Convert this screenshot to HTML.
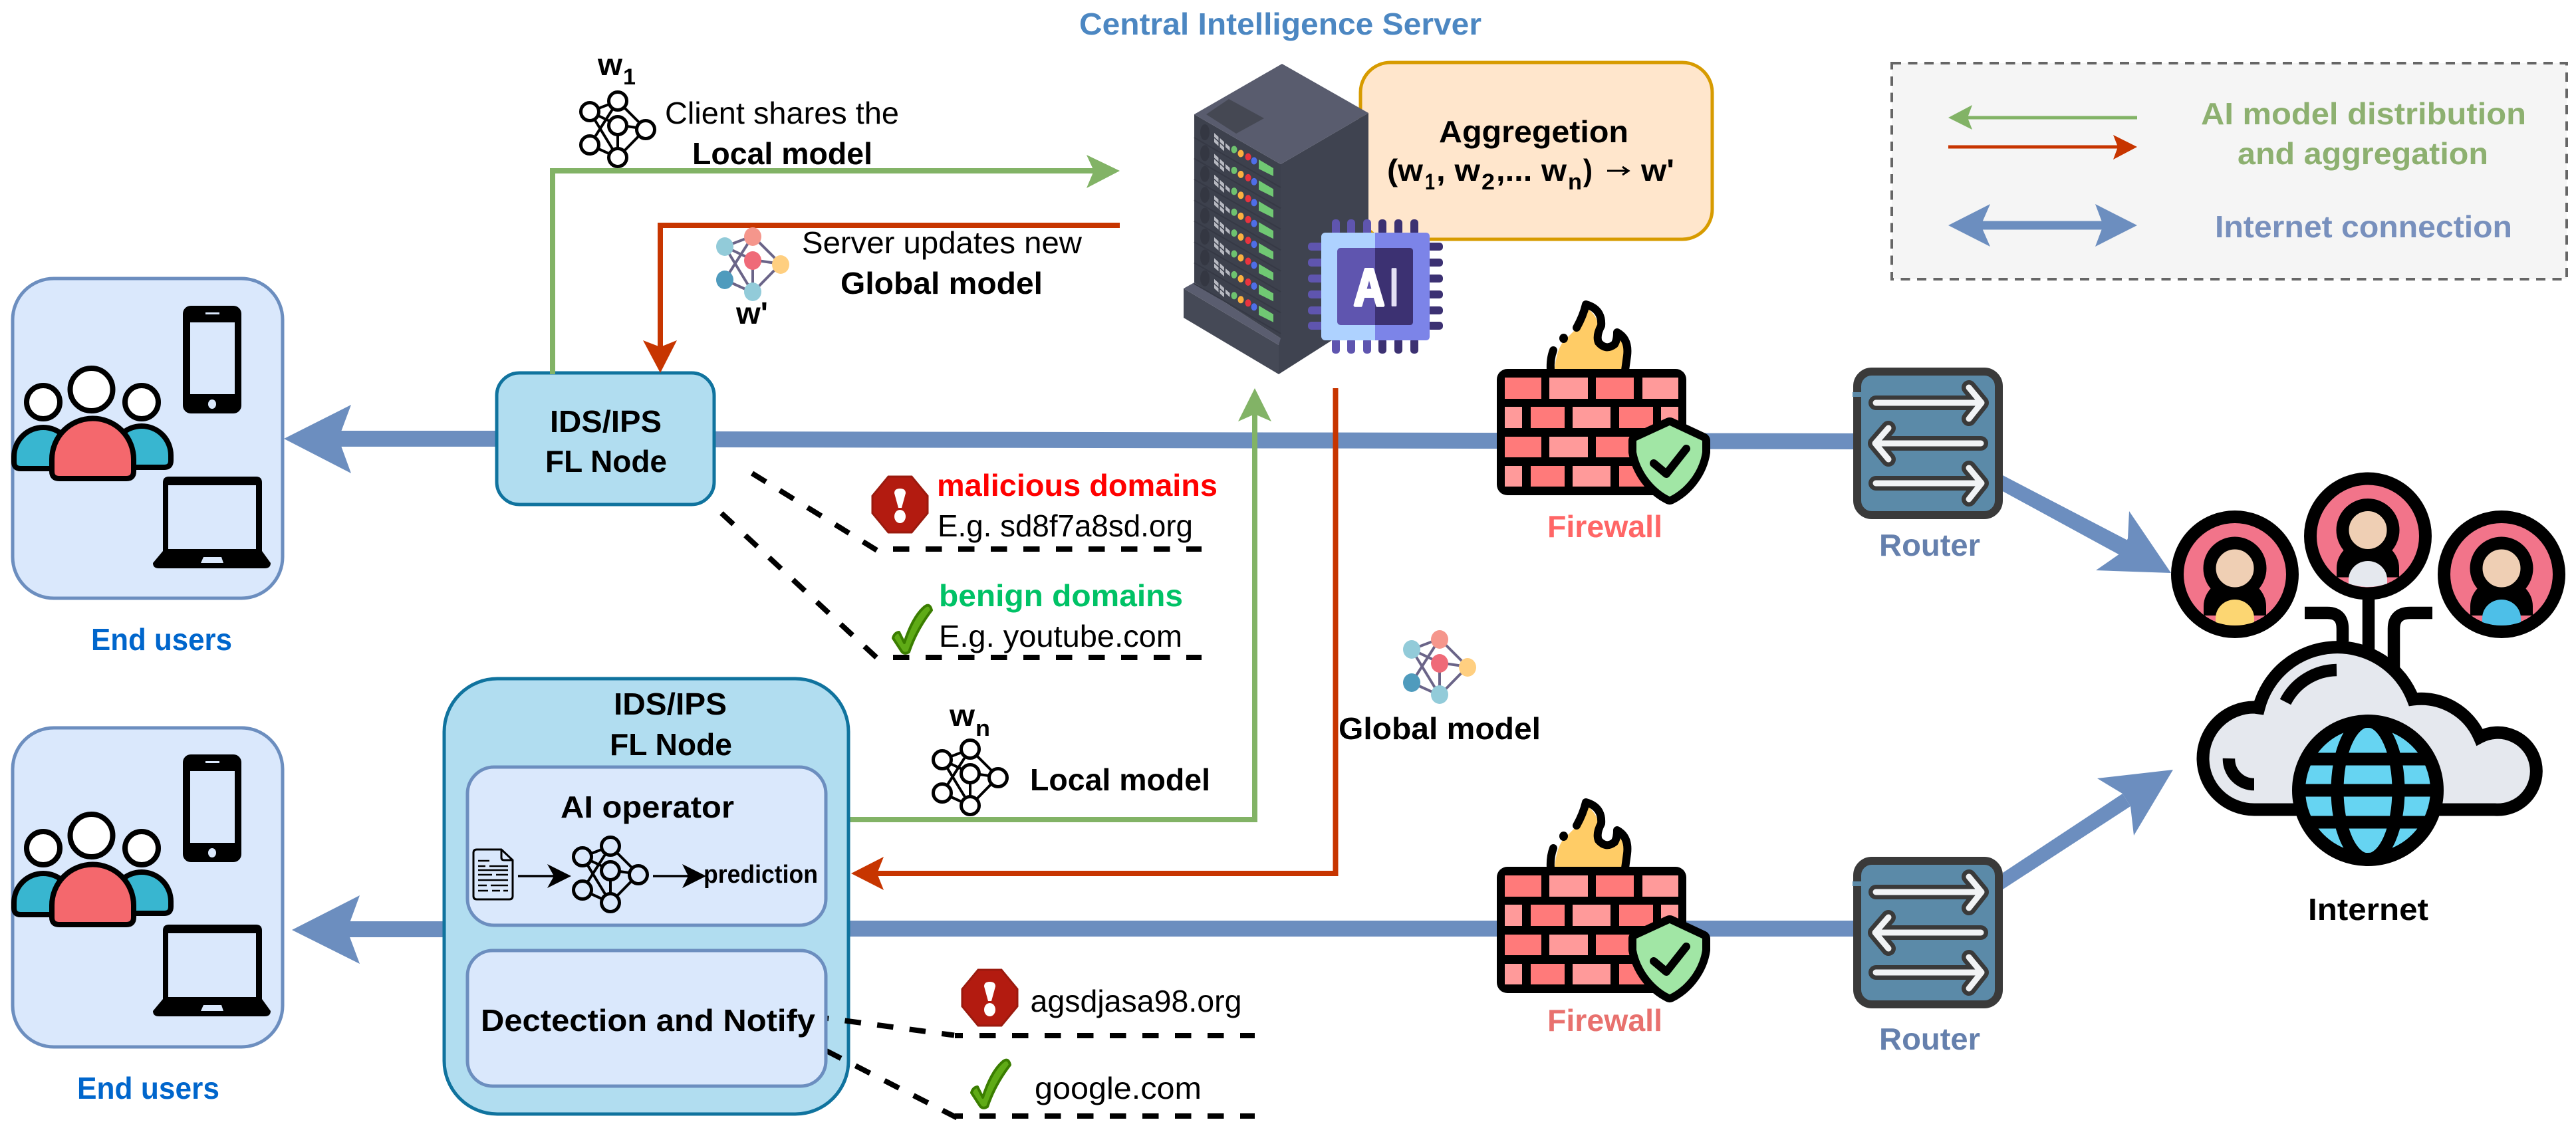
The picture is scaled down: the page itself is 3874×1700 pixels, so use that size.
<!DOCTYPE html>
<html>
<head>
<meta charset="utf-8">
<title>Federated IDS/IPS diagram</title>
<style>
html,body{margin:0;padding:0;background:#fff;width:3874px;height:1700px;overflow:hidden}
svg{display:block}
text{font-family:"Liberation Sans",sans-serif;font-size:46px;fill:#000}
.b{font-weight:bold}
.s{font-size:34px;font-weight:bold}
</style>
</head>
<body>
<svg width="3874" height="1700" viewBox="0 0 3874 1700" xmlns="http://www.w3.org/2000/svg">
<defs>
  <g id="netb">
    <g stroke="#000" stroke-width="4" fill="none">
      <path d="M0,0L42,-16M0,0L42,20M0,0L42,69M42,-16L0,50M42,-16L84,26M42,20L84,26M42,20V69M84,26L42,69M0,50L42,69"/>
    </g>
    <g stroke="#000" stroke-width="5">
      <circle cx="0" cy="0" r="13.5"/><circle cx="42" cy="-16" r="13.5"/><circle cx="42" cy="21" r="13.5"/>
      <circle cx="84" cy="27" r="13.5"/><circle cx="0" cy="50" r="13.5"/><circle cx="42" cy="69" r="13.5"/>
    </g>
  </g>
  <g id="netc">
    <path d="M0,0L42,-16M0,0L42,20M0,0L42,69M42,-16L0,50M42,-16L84,26M42,20L84,26M42,20V69M84,26L42,69M0,50L42,69" stroke="#6a6488" stroke-width="4" fill="none"/>
    <ellipse cx="0" cy="0" rx="13" ry="14" fill="#92cbd9"/><ellipse cx="42" cy="-15" rx="13" ry="14" fill="#f5968c"/>
    <ellipse cx="42" cy="21" rx="13" ry="14" fill="#ef6a78"/><ellipse cx="84" cy="27" rx="13" ry="14" fill="#ffcf80"/>
    <ellipse cx="0" cy="50" rx="13" ry="14" fill="#4f9bbd"/><ellipse cx="42" cy="68" rx="13" ry="14" fill="#92cbd9"/>
  </g>
  <g id="phone">
    <rect x="275" y="1135" width="88" height="162" rx="12" fill="#000"/>
    <rect x="286" y="1160" width="67" height="108" fill="#dae8fc"/>
    <rect x="309" y="1145" width="21" height="3" fill="#dae8fc"/>
    <ellipse cx="319" cy="1283" rx="6" ry="7" fill="#dae8fc"/>
  </g>
  <g id="laptop">
    <path d="M245,1503V1400Q245,1391 254,1391H385Q394,1391 394,1400V1503L407,1521Q407,1529 398,1529H239Q230,1529 230,1521Z" fill="#000"/>
    <rect x="253" y="1404" width="132" height="96" fill="#dae8fc"/>
    <path d="M306,1512H333L336,1521H302Z" fill="#dae8fc"/>
  </g>
  <g id="people" stroke="#000" stroke-width="8">
    <path d="M21,1366V1358A44,44 0 0 1 109,1358V1376H31Q21,1376 21,1366Z" fill="#38b6d0"/>
    <path d="M257,1364V1356A44,44 0 0 0 169,1356V1374H247Q257,1374 257,1364Z" fill="#38b6d0"/>
    <path d="M78,1380V1362A61,61 0 0 1 201,1362V1380Q201,1391 190,1391H89Q78,1391 78,1380Z" fill="#f4686d"/>
    <circle cx="137.5" cy="1257" r="32" fill="#fff"/>
    <circle cx="65" cy="1276" r="25" fill="#fff"/>
    <circle cx="213" cy="1276" r="25" fill="#fff"/>
  </g>
  <g id="firewall">
    <path d="M2338,556Q2340,530 2350,515L2372,493L2385,462Q2410,480 2402,507Q2405,525 2420,522L2432,505Q2447,520 2442,556Z" fill="#ffcc66"/>
    <path d="M2371,493Q2381,475 2385,458Q2410,465 2408,490Q2400,505 2404,515Q2415,528 2428,518Q2432,512 2432,500Q2450,510 2447,535L2444,557" fill="none" stroke="#000" stroke-width="12" stroke-linecap="round" stroke-linejoin="round"/>
    <ellipse cx="2351.5" cy="509" rx="6.5" ry="7" fill="#000"/>
    <path d="M2332,557Q2331,540 2336,527" fill="none" stroke="#000" stroke-width="12" stroke-linecap="round"/>
    <rect x="2251" y="555" width="285" height="190" rx="16" fill="#000"/>
    <g fill="#ff7a7a">
      <rect x="2263" y="568" width="55" height="32"/><rect x="2400" y="568" width="57" height="32"/>
      <rect x="2302" y="612" width="51" height="32"/><rect x="2435" y="612" width="51" height="32"/>
      <rect x="2263" y="657" width="55" height="31"/><rect x="2400" y="657" width="57" height="31"/>
      <rect x="2302" y="701" width="51" height="31"/><rect x="2435" y="701" width="51" height="31"/>
    </g>
    <g fill="#ff9a9a">
      <rect x="2330" y="568" width="58" height="32"/><rect x="2470" y="568" width="54" height="32"/>
      <rect x="2263" y="612" width="26" height="32"/><rect x="2365" y="612" width="57" height="32"/><rect x="2498" y="612" width="26" height="32"/>
      <rect x="2330" y="657" width="58" height="31"/><rect x="2470" y="657" width="54" height="31"/>
      <rect x="2263" y="701" width="26" height="31"/><rect x="2365" y="701" width="57" height="31"/>
    </g>
    <path d="M2511,640L2560,663V680C2556,708 2536,735 2511,747C2486,735 2466,708 2461,680V663Z" fill="#a1e6a5" stroke="#000" stroke-width="24" stroke-linejoin="round" paint-order="stroke"/>
    <path d="M2487,697L2506,713L2536,675" fill="none" stroke="#000" stroke-width="12" stroke-linecap="round" stroke-linejoin="round"/>
  </g>
  <g id="router">
    <rect x="2793" y="559" width="213" height="216" rx="22" fill="#5b8aa8" stroke="#3a3a3a" stroke-width="12"/>
    <rect x="2786" y="590" width="14" height="7" fill="#5b8aa8"/>
    <g fill="none" stroke="#3a3a3a" stroke-width="22" stroke-linecap="round" stroke-linejoin="round">
      <path d="M2821,606H2980M2961,583L2980,606L2961,630"/>
      <path d="M2979,667H2820M2840,644L2820,667L2840,691"/>
      <path d="M2821,727H2980M2961,704L2980,727L2961,751"/>
    </g>
    <g fill="none" stroke="#f1f3f5" stroke-width="9" stroke-linecap="round" stroke-linejoin="round">
      <path d="M2821,606H2980M2961,583L2980,606L2961,630"/>
      <path d="M2979,667H2820M2840,644L2820,667L2840,691"/>
      <path d="M2821,727H2980M2961,704L2980,727L2961,751"/>
    </g>
  </g>
  <g id="rk">
    <path d="M1796,207L1926,282" stroke="#363945" stroke-width="2" fill="none"/>
    <ellipse cx="1812" cy="199" rx="7" ry="12" fill="#343742"/>
    <g transform="matrix(1,.9,0,1,1826,200)" fill="#b8bac2">
      <rect x="0" y="0" width="6.500" height="6"/><rect x="8.500" y="0" width="6.500" height="6"/><rect x="17" y="0" width="6.500" height="6"/>
      <rect x="0" y="8" width="6.500" height="6"/><rect x="8.500" y="8" width="6.500" height="6"/>
    </g>
    <ellipse cx="1856" cy="225" rx="4.5" ry="5.500" fill="#6ec26f"/>
    <ellipse cx="1866" cy="231" rx="4.5" ry="5.500" fill="#fbb040"/>
    <ellipse cx="1877" cy="236" rx="4.5" ry="5.500" fill="#e8343f"/>
    <ellipse cx="1886" cy="242" rx="4.5" ry="5.500" fill="#4f6ee8"/>
    <path d="M1893,240L1915,253V265L1893,254Z" fill="#70c873"/>
  </g>
  <g id="person">
    <circle cx="0" cy="0" r="86.5" stroke="#000" stroke-width="19"/>
    <path d="M-47,62V48A47,42 0 0 1 47,48V62" fill="#000"/>
    <circle cx="0" cy="-9" r="38" fill="#efcfb4" stroke="#000" stroke-width="19"/>
  </g>
</defs>

<!-- connection lines -->
<g fill="#6c8ebf">
  <rect x="509" y="648" width="240" height="24"/>
  <polygon points="427,660 528,609 509,660 528,712"/>
  <path d="M1074,649L2790,652V676L1074,673Z"/>
  <rect x="522" y="1386" width="150" height="24"/>
  <polygon points="439,1399 541,1347 522,1399 541,1450"/>
  <rect x="1270" y="1385" width="1520" height="24"/>
  <path d="M3008,713L3200,813L3188,835L3008,737Z"/>
  <polygon points="3265,862 3202,769 3200,810 3188,833 3152,858"/>
  <path d="M3012,1313L3192,1194L3204,1213L3012,1338Z"/>
  <polygon points="3268,1158 3154,1171 3192,1194 3204,1213 3209,1257"/>
</g>

<!-- End users boxes -->
<rect x="19" y="419" width="406" height="481" rx="62" fill="#dae8fc" stroke="#6c8ebf" stroke-width="5"/>
<rect x="19" y="1095" width="406" height="480" rx="62" fill="#dae8fc" stroke="#6c8ebf" stroke-width="5"/>
<use href="#phone" transform="translate(0,-675)"/>
<use href="#laptop" transform="translate(0,-674)"/>
<use href="#people" transform="translate(0,-671)"/>
<use href="#phone"/>
<use href="#laptop"/>
<use href="#people"/>
<text class="b" x="137" y="978" textLength="212" lengthAdjust="spacingAndGlyphs" style="fill:#0066cc">End users</text>
<text class="b" x="116" y="1653" textLength="214" lengthAdjust="spacingAndGlyphs" style="fill:#0066cc">End users</text>

<!-- IDS node 1 -->
<rect x="747" y="561" width="327" height="198" rx="34" fill="#b1ddf0" stroke="#10739e" stroke-width="5"/>
<text class="b" x="827" y="650" textLength="168" lengthAdjust="spacingAndGlyphs">IDS/IPS</text>
<text class="b" x="820" y="710" textLength="183" lengthAdjust="spacingAndGlyphs">FL Node</text>

<!-- Green & red FL arrows -->
<path d="M831,563V257H1645" fill="none" stroke="#82b366" stroke-width="8"/>
<polygon points="1684,257 1634,233 1645,257 1634,283" fill="#82b366"/>
<path d="M1684,339H993V522" fill="none" stroke="#c73500" stroke-width="8"/>
<polygon points="993,561 967,512 993,522 1018,512" fill="#c73500"/>
<path d="M1276,1233H1887V623" fill="none" stroke="#82b366" stroke-width="8"/>
<polygon points="1887,584 1862,634 1887,623 1912,634" fill="#82b366"/>
<path d="M2008.5,584V1314H1319" fill="none" stroke="#c73500" stroke-width="8"/>
<polygon points="1280,1314 1329,1289 1319,1314 1329,1339" fill="#c73500"/>

<!-- model labels -->
<text class="b" x="899" y="113" textLength="37" lengthAdjust="spacingAndGlyphs">w</text>
<text class="s" x="937" y="127" textLength="19" lengthAdjust="spacingAndGlyphs">1</text>
<use href="#netb" x="887" y="168" fill="#fff"/>
<text x="1000" y="186" textLength="352" lengthAdjust="spacingAndGlyphs">Client shares the</text>
<text class="b" x="1041" y="247" textLength="271" lengthAdjust="spacingAndGlyphs">Local model</text>
<use href="#netc" x="1090" y="371"/>
<text class="b" x="1107" y="487" textLength="48" lengthAdjust="spacingAndGlyphs">w'</text>
<text x="1206" y="381" textLength="421" lengthAdjust="spacingAndGlyphs">Server updates new</text>
<text class="b" x="1264" y="442" textLength="304" lengthAdjust="spacingAndGlyphs">Global model</text>

<text class="b" x="1428" y="1092" textLength="38" lengthAdjust="spacingAndGlyphs">w</text>
<text class="s" x="1467" y="1107" textLength="22" lengthAdjust="spacingAndGlyphs">n</text>
<use href="#netb" x="1417" y="1143" fill="#fff"/>
<text class="b" x="1549" y="1189" textLength="271" lengthAdjust="spacingAndGlyphs">Local model</text>
<use href="#netc" x="2123" y="977"/>
<text class="b" x="2013" y="1112" textLength="304" lengthAdjust="spacingAndGlyphs">Global model</text>

<!-- Domains upper -->
<g fill="none" stroke="#000" stroke-width="8">
  <path d="M1131,712L1319,828" stroke-dasharray="24.5 24.5"/>
  <path d="M1343,826H1807" stroke-dasharray="24.5 24.5"/>
  <path d="M1085,772L1319,990" stroke-dasharray="24.5 24.5"/>
  <path d="M1343,989H1807" stroke-dasharray="24.5 24.5"/>
</g>
<g id="stop">
  <polygon points="1336,717 1371,717 1395,746 1395,772 1371,801 1336,801 1312,772 1312,746" fill="#b31b10" stroke="#9b1a0e" stroke-width="3"/>
  <path d="M1345,742Q1345,735 1353.500,735Q1362,735 1362,742L1356,764H1351Z" fill="#fff"/>
  <ellipse cx="1353.500" cy="777" rx="8.500" ry="10" fill="#fff"/>
</g>
<path id="chk" d="M1343,960Q1345,952 1352,951L1360,967Q1372,930 1388,915Q1398,905 1401,918Q1378,948 1367,981Q1360,985 1356,980Z" fill="#5fab16" stroke="#3a7d00" stroke-width="4" stroke-linejoin="round"/>
<text class="b" x="1409" y="746" textLength="422" lengthAdjust="spacingAndGlyphs" style="fill:#ff0000">malicious domains</text>
<text x="1410" y="807" textLength="384" lengthAdjust="spacingAndGlyphs">E.g. sd8f7a8sd.org</text>
<text class="b" x="1412" y="912" textLength="367" lengthAdjust="spacingAndGlyphs" style="fill:#00c266">benign domains</text>
<text x="1412" y="973" textLength="366" lengthAdjust="spacingAndGlyphs">E.g. youtube.com</text>

<!-- Large IDS node -->
<rect x="668" y="1021" width="608" height="655" rx="80" fill="#b1ddf0" stroke="#10739e" stroke-width="5"/>
<text class="b" x="923" y="1075" textLength="170" lengthAdjust="spacingAndGlyphs">IDS/IPS</text>
<text class="b" x="917" y="1136" textLength="184" lengthAdjust="spacingAndGlyphs">FL Node</text>

<g fill="none" stroke="#000" stroke-width="8">
  <path d="M1222,1529L1435,1557.500" stroke-dasharray="24.5 24.5"/>
  <path d="M1243,1581L1440,1682" stroke-dasharray="24.5 24.5"/>
  <path d="M1436,1558H1448M1436,1679H1448"/>
  <path d="M1473,1558H1887" stroke-dasharray="24.5 24.5"/>
  <path d="M1473,1679H1887" stroke-dasharray="24.5 24.5"/>
</g>

<rect x="703" y="1154" width="539" height="238" rx="40" fill="#dae8fc" stroke="#6c8ebf" stroke-width="5"/>
<rect x="703" y="1430" width="539" height="204" rx="38" fill="#dae8fc" stroke="#6c8ebf" stroke-width="5"/>
<text class="b" x="843" y="1230" textLength="261" lengthAdjust="spacingAndGlyphs">AI operator</text>
<text class="b" x="723" y="1551" textLength="503" lengthAdjust="spacingAndGlyphs">Dectection and Notify</text>
<path d="M712,1283Q712,1278 717,1278H754L771,1294V1348Q771,1353 766,1353H717Q712,1353 712,1348Z M754,1278V1290Q754,1294 758,1294H771" fill="none" stroke="#000" stroke-width="3"/>
<path d="M719,1295H736M719,1303H730M736,1303H764M719,1309H764M719,1316H740M746,1316H764M719,1324H764M719,1332H732M738,1332H764M719,1340H734M740,1340H752M757,1340H764" stroke="#000" stroke-width="2.500" fill="none"/>
<path d="M779,1318H835" stroke="#000" stroke-width="3.500"/>
<polygon points="859,1318 823,1300 833,1318 823,1336" fill="#000"/>
<use href="#netb" x="876" y="1289" fill="#dae8fc"/>
<path d="M982,1318H1037" stroke="#000" stroke-width="3.500"/>
<polygon points="1062,1318 1026,1300 1035,1318 1026,1336" fill="#000"/>
<text class="b" x="1058" y="1328" textLength="172" lengthAdjust="spacingAndGlyphs" style="font-size:38px">prediction</text>

<!-- Domains lower -->
<use href="#stop" transform="translate(135,742)"/>
<use href="#chk" transform="translate(118,684)"/>
<text x="1549.500" y="1522" textLength="318" lengthAdjust="spacingAndGlyphs">agsdjasa98.org</text>
<text x="1556" y="1653" textLength="251" lengthAdjust="spacingAndGlyphs">google.com</text>

<!-- Aggregation -->
<rect x="2046" y="94" width="529" height="266" rx="45" fill="#ffe6cc" stroke="#d79b00" stroke-width="5"/>
<text class="b" x="2164" y="214" textLength="285" lengthAdjust="spacingAndGlyphs">Aggregetion</text>
<text class="b" x="2086" y="272" textLength="54" lengthAdjust="spacingAndGlyphs">(w</text>
<text class="s" x="2143" y="285" textLength="15" lengthAdjust="spacingAndGlyphs">1</text>
<text class="b" x="2160" y="272" textLength="66" lengthAdjust="spacingAndGlyphs">, w</text>
<text class="s" x="2228" y="285" textLength="20" lengthAdjust="spacingAndGlyphs">2</text>
<text class="b" x="2250" y="272" textLength="106" lengthAdjust="spacingAndGlyphs">,... w</text>
<text class="s" x="2358" y="285" textLength="21" lengthAdjust="spacingAndGlyphs">n</text>
<text class="b" x="2381" y="272" textLength="14" lengthAdjust="spacingAndGlyphs">)</text>
<path d="M2417,257H2447M2440,251L2449,257L2440,263" fill="none" stroke="#000" stroke-width="3"/>
<text class="b" x="2468" y="272" textLength="50" lengthAdjust="spacingAndGlyphs">w'</text>

<text class="b" x="1623" y="52" textLength="605" lengthAdjust="spacingAndGlyphs" style="fill:#4c87c2">Central Intelligence Server</text>

<!-- Server -->
<polygon points="1780,434 1923,519 1923,563 1780,478" fill="#454956"/>
<polygon points="1780,434 1796,425 1926,509 2058,432 2058,445 1923,519" fill="#5a5d6f"/>
<polygon points="1926,247 2058,170 2058,477 1923,563 1923,519 1926,509" fill="#3f4350"/>
<polygon points="1796,172 1926,247 1926,509 1796,425" fill="#3d414d"/>
<polygon points="1928,96 2058,170 1926,247 1796,172" fill="#595c6e"/>
<polygon points="1848,149 1901,178 1859,201 1814,172" fill="#454853"/>
<use href="#rk"/>
<use href="#rk" y="31.4"/>
<use href="#rk" y="62.8"/>
<use href="#rk" y="94.2"/>
<use href="#rk" y="125.6"/>
<use href="#rk" y="157"/>
<use href="#rk" y="188.4"/>
<use href="#rk" y="219.8"/>

<!-- AI chip -->
<g fill="#5f55af">
  <rect x="2003" y="330" width="12" height="24" rx="5"/><rect x="2026" y="330" width="12" height="24" rx="5"/><rect x="2050" y="330" width="12" height="24" rx="5"/>
  <rect x="2003" y="508" width="12" height="24" rx="5"/><rect x="2026" y="508" width="12" height="24" rx="5"/><rect x="2050" y="508" width="12" height="24" rx="5"/>
  <rect x="1967" y="365" width="24" height="12" rx="5"/><rect x="1967" y="389" width="24" height="12" rx="5"/><rect x="1967" y="413" width="24" height="12" rx="5"/>
  <rect x="1967" y="437" width="24" height="12" rx="5"/><rect x="1967" y="461" width="24" height="12" rx="5"/><rect x="1967" y="484" width="24" height="12" rx="5"/>
</g>
<g fill="#3c3172">
  <rect x="2073" y="330" width="12" height="24" rx="5"/><rect x="2097" y="330" width="12" height="24" rx="5"/><rect x="2121" y="330" width="12" height="24" rx="5"/>
  <rect x="2073" y="508" width="12" height="24" rx="5"/><rect x="2097" y="508" width="12" height="24" rx="5"/><rect x="2121" y="508" width="12" height="24" rx="5"/>
  <rect x="2146" y="365" width="24" height="12" rx="5"/><rect x="2146" y="389" width="24" height="12" rx="5"/><rect x="2146" y="413" width="24" height="12" rx="5"/>
  <rect x="2146" y="437" width="24" height="12" rx="5"/><rect x="2146" y="461" width="24" height="12" rx="5"/><rect x="2146" y="484" width="24" height="12" rx="5"/>
</g>
<rect x="1987" y="350" width="163" height="162" rx="6" fill="#aed2ff"/>
<path d="M2068,350H2144Q2150,350 2150,356V506Q2150,512 2144,512H2068Z" fill="#7c84e8"/>
<rect x="2011" y="373" width="114" height="116" rx="5" fill="#5f55af"/>
<path d="M2068,373H2120Q2125,373 2125,378V484Q2125,489 2120,489H2068Z" fill="#3c3172"/>
<text class="b" x="2036" y="459" textLength="46" lengthAdjust="spacingAndGlyphs" style="font-size:78px;fill:#fff;stroke:#fff;stroke-width:5;stroke-linejoin:round">A</text>
<text class="b" x="2091" y="459" textLength="11" lengthAdjust="spacingAndGlyphs" style="font-size:78px;fill:#e4e0f5;stroke:#e4e0f5;stroke-width:4;stroke-linejoin:round">I</text>

<!-- Firewalls & routers -->
<use href="#firewall"/>
<use href="#firewall" y="749"/>
<use href="#router"/>
<use href="#router" y="736"/>
<text class="b" x="2327" y="808" textLength="173" lengthAdjust="spacingAndGlyphs" style="fill:#ff6666">Firewall</text>
<text class="b" x="2327" y="1551" textLength="173" lengthAdjust="spacingAndGlyphs" style="fill:#e8716e">Firewall</text>
<text class="b" x="2826" y="836" textLength="152" lengthAdjust="spacingAndGlyphs" style="fill:#6580ad">Router</text>
<text class="b" x="2826" y="1579" textLength="152" lengthAdjust="spacingAndGlyphs" style="fill:#6580ad">Router</text>

<!-- Internet -->
<g fill="none" stroke="#000" stroke-width="18.500">
  <path d="M3562,890V985"/>
  <path d="M3466,922H3500Q3523,922 3523,946V965"/>
  <path d="M3658,922H3625Q3600,922 3600,946V1005"/>
</g>
<use href="#person" x="3361" y="864" fill="#f2748a"/>
<use href="#person" x="3561" y="806.500" fill="#f2748a"/>
<use href="#person" x="3762" y="864" fill="#f2748a"/>
<path d="M3332,935V930A29,28 0 0 1 3390,930V936Q3361,946 3332,936Z" fill="#fcd672"/>
<path d="M3532,877V872A29,28 0 0 1 3590,872V878Q3561,888 3532,878Z" fill="#e5e8ee"/>
<path d="M3733,935V930A29,28 0 0 1 3791,930V936Q3762,946 3733,936Z" fill="#4dbfe8"/>
<path d="M3390,1218A77,77 0 0 1 3390,1064L3397,1065A122,122 0 0 1 3629,1052A96,96 0 0 1 3729,1109A58,58 0 1 1 3752,1218Z" fill="#e5e8ee" stroke="#000" stroke-width="19"/>
<path d="M3514,1008A88,88 0 0 0 3437,1056" fill="none" stroke="#000" stroke-width="18.500"/>
<path d="M3352,1141A38,38 0 0 0 3390,1180" fill="none" stroke="#000" stroke-width="18.500"/>
<circle cx="3561" cy="1189" r="104" fill="#66d4f2" stroke="#000" stroke-width="20"/>
<g fill="none" stroke="#000" stroke-width="19">
  <path d="M3466,1142H3656M3458,1189H3664M3466,1237H3656"/>
  <ellipse cx="3561" cy="1189" rx="46" ry="104"/>
</g>
<text class="b" x="3471" y="1384" textLength="181" lengthAdjust="spacingAndGlyphs">Internet</text>

<!-- Legend -->
<rect x="2845" y="95" width="1015" height="325" fill="#f5f5f5" stroke="#666" stroke-width="4" stroke-dasharray="14 10.500"/>
<path d="M2959,177H3214" stroke="#82b366" stroke-width="5"/>
<polygon points="2930,177 2966,158 2959,177 2966,195" fill="#82b366"/>
<path d="M2930,221H3185" stroke="#c73500" stroke-width="5"/>
<polygon points="3214,221 3178,203 3185,221 3178,240" fill="#c73500"/>
<path d="M2979,339H3163" stroke="#6c8ebf" stroke-width="13"/>
<polygon points="2930,339 2993,307 2979,339 2993,371" fill="#6c8ebf"/>
<polygon points="3214,339 3151,307 3163,339 3151,371" fill="#6c8ebf"/>
<text class="b" x="3310" y="187" textLength="489" lengthAdjust="spacingAndGlyphs" style="fill:#8db070">AI model distribution</text>
<text class="b" x="3365" y="247" textLength="377" lengthAdjust="spacingAndGlyphs" style="fill:#8db070">and aggregation</text>
<text class="b" x="3331" y="357" textLength="447" lengthAdjust="spacingAndGlyphs" style="fill:#7890bd">Internet connection</text>
</svg>
</body>
</html>
